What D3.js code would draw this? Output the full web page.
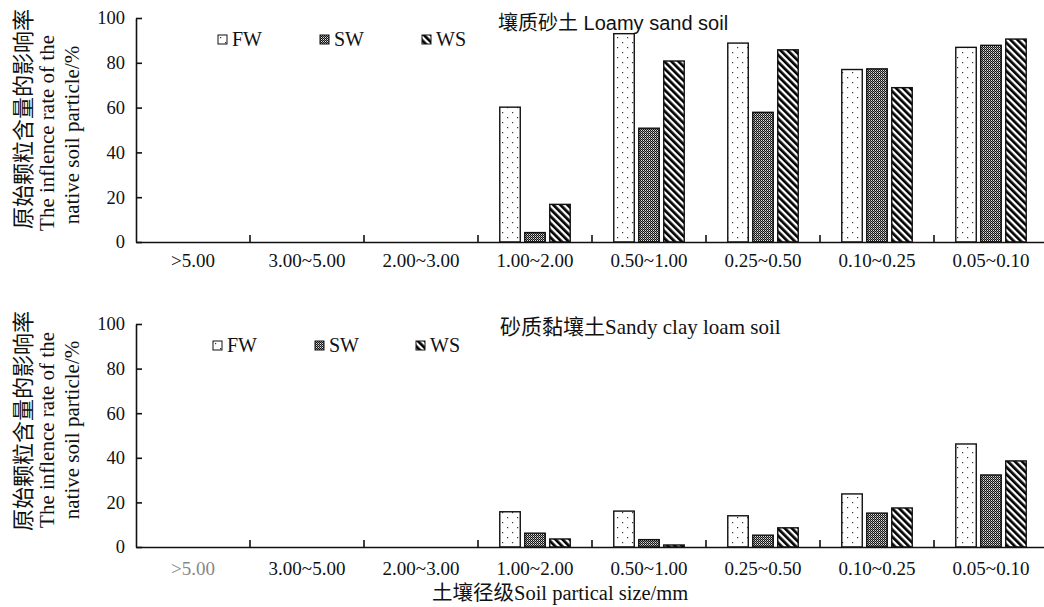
<!DOCTYPE html>
<html>
<head>
<meta charset="utf-8">
<script src="https://cdn.jsdelivr.net/npm/d3@7"></script>
<style>
  body { margin: 0; background: #fff; }
  svg { display: block; }
</style>
</head>
<body>
<script>
//soil particle size classes
var categories = [">5.00", "3.00~5.00", "2.00~3.00", "1.00~2.00", "0.50~1.00", "0.25~0.50", "0.10~0.25", "0.05~0.10"];
var seriesNames = ["FW", "SW", "WS"];
var yTicks = [0, 20, 40, 60, 80, 100];

//loamy sand soil (top panel)
var loamyFW = [null, null, null, 60.2, 93.0, 88.8, 77.0, 86.9];
var loamySW = [null, null, null, 4.2, 50.8, 57.9, 77.3, 87.8];
var loamyWS = [null, null, null, 16.8, 80.8, 85.8, 68.9, 90.6];

//sandy clay loam soil (bottom panel)
var clayFW = [null, null, null, 15.8, 16.1, 14.0, 23.8, 46.2];
var claySW = [null, null, null, 6.2, 3.3, 5.3, 15.2, 32.3];
var clayWS = [null, null, null, 3.6, 0.9, 8.6, 17.5, 38.6];

var W = 1044, H = 607;
var serif = '"Liberation Serif", "Noto Sans CJK SC", serif';

var svg = d3.select("body").append("svg")
    .attr("width", W)
    .attr("height", H);

//fill patterns
var defs = svg.append("defs");

var pDots = defs.append("pattern")
    .attr("id", "pat-FW")
    .attr("patternUnits", "userSpaceOnUse")
    .attr("width", 10).attr("height", 10);
pDots.append("rect").attr("width", 10).attr("height", 10).attr("fill", "#fff");
pDots.append("rect").attr("x", 2).attr("y", 2).attr("width", 1.2).attr("height", 1.2).attr("fill", "#333");
pDots.append("rect").attr("x", 7).attr("y", 7).attr("width", 1.2).attr("height", 1.2).attr("fill", "#333");

var pCheck = defs.append("pattern")
    .attr("id", "pat-SW")
    .attr("patternUnits", "userSpaceOnUse")
    .attr("width", 2).attr("height", 2);
pCheck.append("rect").attr("width", 2).attr("height", 2).attr("fill", "#151515");
pCheck.append("rect").attr("x", 1).attr("y", 0).attr("width", 1).attr("height", 1).attr("fill", "#e0e0e0");
pCheck.append("rect").attr("x", 0).attr("y", 1).attr("width", 1).attr("height", 1).attr("fill", "#8a8a8a");

var pStripe = defs.append("pattern")
    .attr("id", "pat-WS")
    .attr("patternUnits", "userSpaceOnUse")
    .attr("width", 5).attr("height", 5)
    .attr("patternTransform", "rotate(-45)");
pStripe.append("rect").attr("width", 5).attr("height", 5).attr("fill", "#fff");
pStripe.append("rect").attr("width", 2.7).attr("height", 5).attr("fill", "#000");

//shared x scales
var x = d3.scaleBand()
    .domain(categories)
    .range([136, 1048])
    .paddingInner(0.382)
    .paddingOuter(0.191);

var xs = d3.scaleBand()
    .domain(seriesNames)
    .range([0, x.bandwidth()])
    .paddingInner(0.18);

function drawPanel(cfg){
    var g = svg.append("g");
    var values = {FW: cfg.fw, SW: cfg.sw, WS: cfg.ws};

    var y = d3.scaleLinear()
        .domain([0, 100])
        .range([cfg.y0, cfg.y100]);

    //bars
    seriesNames.forEach(function(s){
        var rows = categories.map(function(c, i){ return {c: c, v: values[s][i]}; })
            .filter(function(d){ return d.v != null; });
        g.selectAll(".bar-" + s)
            .data(rows)
            .enter()
            .append("rect")
            .attr("class", "bar-" + s)
            .attr("x", function(d){ return x(d.c) + xs(s); })
            .attr("width", xs.bandwidth())
            .attr("y", function(d){ return y(d.v); })
            .attr("height", function(d){ return y(0) - y(d.v); })
            .attr("fill", "url(#pat-" + s + ")")
            .attr("stroke", "#111")
            .attr("stroke-width", 1.4);
    });

    //y axis
    var yAxis = g.append("g")
        .attr("transform", "translate(136,0)")
        .call(d3.axisLeft(y).tickValues(yTicks).tickSizeInner(-6).tickSizeOuter(0).tickPadding(11));
    yAxis.attr("font-family", serif);
    yAxis.select(".domain").attr("stroke", "#111").attr("stroke-width", 1.6);
    yAxis.selectAll(".tick line").attr("stroke", "#111").attr("stroke-width", 1.6);
    yAxis.selectAll(".tick text").attr("font-family", serif).attr("font-size", 18.5).attr("fill", "#111");

    //x axis (labels centred, ticks between classes)
    var xAxis = g.append("g")
        .attr("transform", "translate(0," + cfg.y0 + ")")
        .call(d3.axisBottom(x).tickSize(0).tickPadding(cfg.labelPad));
    xAxis.attr("font-family", serif);
    xAxis.select(".domain").attr("stroke", "#111").attr("stroke-width", 1.6);
    xAxis.selectAll(".tick text")
        .attr("font-family", serif)
        .attr("font-size", 19)
        .attr("fill", function(d){ return (cfg.grayFirst && d == categories[0]) ? "#888" : "#111"; });

    g.selectAll(".xsep")
        .data(categories.slice(1))
        .enter()
        .append("line")
        .attr("class", "xsep")
        .attr("x1", function(d){ return x(d) - (x.step() - x.bandwidth()) / 2; })
        .attr("x2", function(d){ return x(d) - (x.step() - x.bandwidth()) / 2; })
        .attr("y1", cfg.y0)
        .attr("y2", cfg.y0 - 7)
        .attr("stroke", "#111")
        .attr("stroke-width", 1.6);

    //panel title
    g.append("text")
        .attr("x", cfg.titleX)
        .attr("y", cfg.titleY)
        .attr("font-family", cfg.titleFont)
        .attr("font-size", cfg.titleSize)
        .attr("fill", "#111")
        .text(cfg.title);

    //legend
    var leg = g.selectAll(".leg")
        .data(seriesNames)
        .enter()
        .append("g")
        .attr("transform", function(d, i){ return "translate(" + cfg.legX[i] + "," + cfg.legY + ")"; });
    leg.append("rect")
        .attr("width", 9).attr("height", 9)
        .attr("fill", function(d){ return "url(#pat-" + d + ")"; })
        .attr("stroke", "#111")
        .attr("stroke-width", 1);
    leg.append("text")
        .attr("x", 14)
        .attr("y", 11)
        .attr("font-family", serif)
        .attr("font-size", 20)
        .attr("fill", "#111")
        .text(function(d){ return d; });

    //y axis title, three lines
    var yLines = ["原始颗粒含量的影响率", "The inflence rate of the", "native soil particle/%"];
    var yLineX = [23, 47, 72];
    var yLineSize = [22, 21, 21];
    yLines.forEach(function(t, i){
        g.append("text")
            .attr("transform", "translate(" + yLineX[i] + "," + cfg.yTitleC[i] + ") rotate(-90)")
            .attr("text-anchor", "middle")
            .attr("dy", "0.35em")
            .attr("font-family", serif)
            .attr("font-size", yLineSize[i])
            .attr("fill", "#111")
            .text(t);
    });
}

drawPanel({
    fw: loamyFW, sw: loamySW, ws: loamyWS,
    y0: 242, y100: 18, labelPad: 12, grayFirst: false,
    title: "壤质砂土 Loamy sand soil", titleX: 498, titleY: 30,
    titleFont: '"Liberation Sans", "Noto Sans CJK SC", sans-serif', titleSize: 20,
    legX: [218, 320, 422], legY: 35,
    yTitleC: [119, 133, 135]
});

drawPanel({
    fw: clayFW, sw: claySW, ws: clayWS,
    y0: 547, y100: 324, labelPad: 15, grayFirst: true,
    title: "砂质黏壤土Sandy clay loam soil", titleX: 500, titleY: 334,
    titleFont: serif, titleSize: 21,
    legX: [213, 315, 416], legY: 341,
    yTitleC: [421, 430, 430]
});

//x axis title
svg.append("text")
    .attr("x", 432)
    .attr("y", 600)
    .attr("font-family", serif)
    .attr("font-size", 20.5)
    .attr("fill", "#111")
    .text("土壤径级Soil partical size/mm");
</script>
</body>
</html>
